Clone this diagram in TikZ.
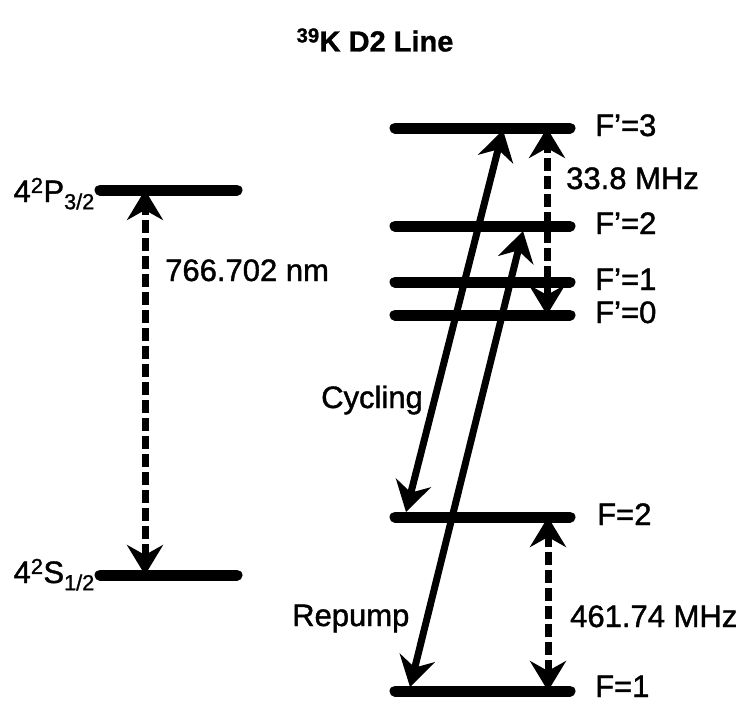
\documentclass[tikz,border=0pt]{standalone}
\usepackage{fontspec}
\setmainfont[FakeBold=1.3]{Liberation Sans}
\newfontfamily\titlefont[FakeBold=1]{Liberation Sans Bold}
\usetikzlibrary{arrows.meta}
\begin{document}
\begin{tikzpicture}[x=1pt,y=-1pt,
  level/.style={line width=11pt, line cap=round},
  tip/.tip={Stealth[length=30pt,width=36pt,inset=10pt]},
  trans/.style={line width=7pt, {tip}-{tip}},
  gap/.style={trans, dash pattern=on 13pt off 5pt},
  lbl/.style={font=\fontsize{31}{36}\selectfont, inner sep=0pt}
]
\useasboundingbox (0,0) rectangle (751,704);
% title
\node[lbl, font=\fontsize{29}{34}\selectfont\titlefont] (title) at (375,40) {\textsuperscript{39}K D2 Line};
% left levels
\coordinate (PL) at (100,190); \coordinate (PR) at (237,190);
\coordinate (SL) at (100,575); \coordinate (SR) at (237,575);
\draw[level] (PL) -- (PR);
\draw[level] (SL) -- (SR);
\coordinate (Pa) at (145,190); \coordinate (Sa) at (145,575);
\draw[gap] (Sa) -- (Pa);
\node[lbl, anchor=base east] (Plbl) at (95,202) {4\textsuperscript{2}P\textsubscript{3/2}};
\node[lbl, anchor=base east] (Slbl) at (95,583) {4\textsuperscript{2}S\textsubscript{1/2}};
\node[lbl, anchor=base west] (wl) at (165,281) {766.702 nm};
% right levels
\foreach \n/\y in {F3/128, F2/226, F1/282, F0/315, G2/517, G1/691}{
  \coordinate (\n L) at (395,\y); \coordinate (\n R) at (570,\y);
  \draw[level] (\n L) -- (\n R);
}
\node[lbl, anchor=base west] (lF3) at (595,136) {F’=3};
\node[lbl, anchor=base west] (lF2) at (595,234) {F’=2};
\node[lbl, anchor=base west] (lF1) at (595,290) {F’=1};
\node[lbl, anchor=base west] (lF0) at (595,323) {F’=0};
\node[lbl, anchor=base west] (lG2) at (597,525) {F=2};
\node[lbl, anchor=base west] (lG1) at (595,697) {F=1};
% hyperfine splittings
\coordinate (hA) at (547,128); \coordinate (hB) at (547,315);
\draw[gap] (hB) -- (hA);
\node[lbl, anchor=base west] (h1) at (566,189) {33.8 MHz};
\coordinate (gA) at (548,517); \coordinate (gB) at (548,691);
\draw[gap] (gB) -- (gA);
\node[lbl, anchor=base west] (h2) at (570,627) {461.74 MHz};
% transitions
\coordinate (cB) at (406,512); \coordinate (cT) at (503,130);
\draw[trans] (cB) -- (cT);
\coordinate (rB) at (410,687); \coordinate (rT) at (523,231);
\draw[trans] (rB) -- (rT);
\node[lbl, anchor=base west] (cyc) at (321,408) {Cycling};
\node[lbl, anchor=base west] (rep) at (292,626) {Repump};
\end{tikzpicture}
\end{document}
